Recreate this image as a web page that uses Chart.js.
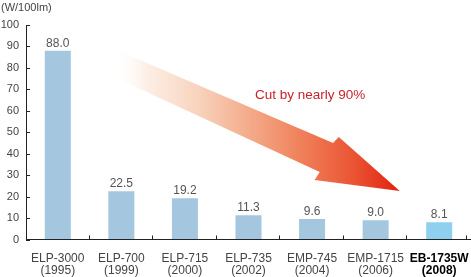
<!DOCTYPE html>
<html>
<head>
<meta charset="utf-8">
<script src="https://cdn.jsdelivr.net/npm/chart.js@4/dist/chart.umd.min.js"></script>
<style>
  html, body { margin: 0; padding: 0; background: #fff; }
  #wrap { width: 471px; height: 277px; position: relative; }
</style>
</head>
<body>
<div id="wrap"><canvas id="c" width="471" height="277"></canvas></div>
<script>
// ---- data ----
const models = ['ELP-3000', 'ELP-700', 'ELP-715', 'ELP-735', 'EMP-745', 'EMP-1715', 'EB-1735W'];
const years = ['(1995)', '(1999)', '(2000)', '(2002)', '(2004)', '(2006)', '(2008)'];
const values = [88.0, 22.5, 19.2, 11.3, 9.6, 9.0, 8.1];
const yTicks = [0, 10, 20, 30, 40, 50, 60, 70, 80, 90, 100];
const unitLabel = '(W/100lm)';
const arrowText = 'Cut by nearly 90%';

const labels = models.map((m, i) => [m, years[i]]);
const lastIdx = values.length - 1;

// arrow outline in (category index, value) units
const arrowShape = [
  [0.853, 89.3], [4.33, 45.0], [4.42, 47.8], [5.38, 22.6],
  [4.04, 27.7], [4.12, 31.5], [0.853, 76.2]
];
const arrowTextPos = [3.97, 67.4];

const FONT = "'Liberation Sans', Arial, sans-serif";

const decor = {
  id: 'decor',
  beforeDatasetsDraw(chart) {
    const { ctx, chartArea: a, scales: { x, y } } = chart;
    ctx.save();
    const pts = arrowShape.map(p => [x.getPixelForValue(p[0]), y.getPixelForValue(p[1])]);
    const x0 = pts[0][0], x1 = pts[3][0];
    const g = ctx.createLinearGradient(x0, 0, x1, 0);
    g.addColorStop(0, 'rgba(255,255,255,0)');
    g.addColorStop(0.12, '#fcefe6');
    g.addColorStop(0.3, '#f8d3bd');
    g.addColorStop(0.5, '#f3a684');
    g.addColorStop(0.68, '#ef7b55');
    g.addColorStop(0.84, '#ea5433');
    g.addColorStop(1, '#e2220f');
    ctx.beginPath();
    pts.forEach((p, i) => i ? ctx.lineTo(p[0], p[1]) : ctx.moveTo(p[0], p[1]));
    ctx.closePath();
    ctx.fillStyle = g;
    ctx.fill();
    ctx.fillStyle = '#c9232c';
    ctx.font = '13.5px ' + FONT;
    ctx.textAlign = 'center';
    ctx.textBaseline = 'middle';
    ctx.fillText(arrowText, x.getPixelForValue(arrowTextPos[0]), y.getPixelForValue(arrowTextPos[1]));
    ctx.restore();
  },
  afterDraw(chart) {
    const { ctx, chartArea: a, scales: { x, y } } = chart;
    ctx.save();
    ctx.strokeStyle = '#222';
    ctx.lineWidth = 1;
    ctx.beginPath();
    yTicks.forEach(v => {
      const py = Math.round(y.getPixelForValue(v)) + 0.5;
      ctx.moveTo(a.left, py); ctx.lineTo(a.left + 4, py);
    });
    const half = (x.getPixelForValue(1) - x.getPixelForValue(0)) / 2;
    for (let i = 0; i < values.length; i++) {
      const px = Math.min(Math.round(x.getPixelForValue(i) + half), a.right - 4) - 0.5;
      ctx.moveTo(px, a.bottom); ctx.lineTo(px, a.bottom - 4);
    }
    ctx.stroke();
    ctx.font = '12px ' + FONT;
    ctx.fillStyle = '#555';
    ctx.textAlign = 'center';
    ctx.textBaseline = 'alphabetic';
    chart.getDatasetMeta(0).data.forEach((bar, i) => {
      ctx.fillText(values[i].toFixed(1), bar.x, bar.y - 4);
    });
    ctx.fillStyle = '#444';
    ctx.font = '11px ' + FONT;
    ctx.textAlign = 'left';
    ctx.textBaseline = 'middle';
    ctx.fillText(unitLabel, 1, a.top - 17);
    ctx.restore();
  }
};

new Chart(document.getElementById('c'), {
  type: 'bar',
  data: {
    labels: labels,
    datasets: [{
      data: values,
      backgroundColor: values.map((v, i) => i === lastIdx ? '#8fd0f0' : '#a4c6de'),
      borderWidth: 0,
      categoryPercentage: 1,
      barPercentage: 0.409
    }]
  },
  options: {
    responsive: false,
    animation: false,
    events: [],
    layout: { padding: { top: 25, right: 0, left: 0, bottom: 0 } },
    plugins: { legend: { display: false }, tooltip: { enabled: false }, title: { display: false } },
    scales: {
      x: {
        offset: true,
        grid: { display: true, drawOnChartArea: false, drawTicks: false },
        border: { display: true, color: '#222', width: 1 },
        ticks: {
          padding: 13,
          maxRotation: 0,
          autoSkip: false,
          color: (c) => c.index === lastIdx ? '#000' : '#444',
          font: (c) => ({ family: FONT, size: 12, lineHeight: 1.0, weight: c.index === lastIdx ? 'bold' : 'normal' })
        },
        afterFit(s) { s.height = 37.5; s.paddingLeft = 0; s.paddingRight = 0; }
      },
      y: {
        min: 0, max: 100,
        grid: { display: true, drawOnChartArea: false, drawTicks: false },
        border: { display: true, color: '#222', width: 1 },
        ticks: {
          stepSize: 10,
          padding: 7,
          color: '#444',
          font: { family: FONT, size: 11 }
        },
        afterFit(s) { s.width = 26; s.paddingTop = 0; s.paddingBottom = 0; }
      }
    }
  },
  plugins: [decor]
});
</script>
</body>
</html>
